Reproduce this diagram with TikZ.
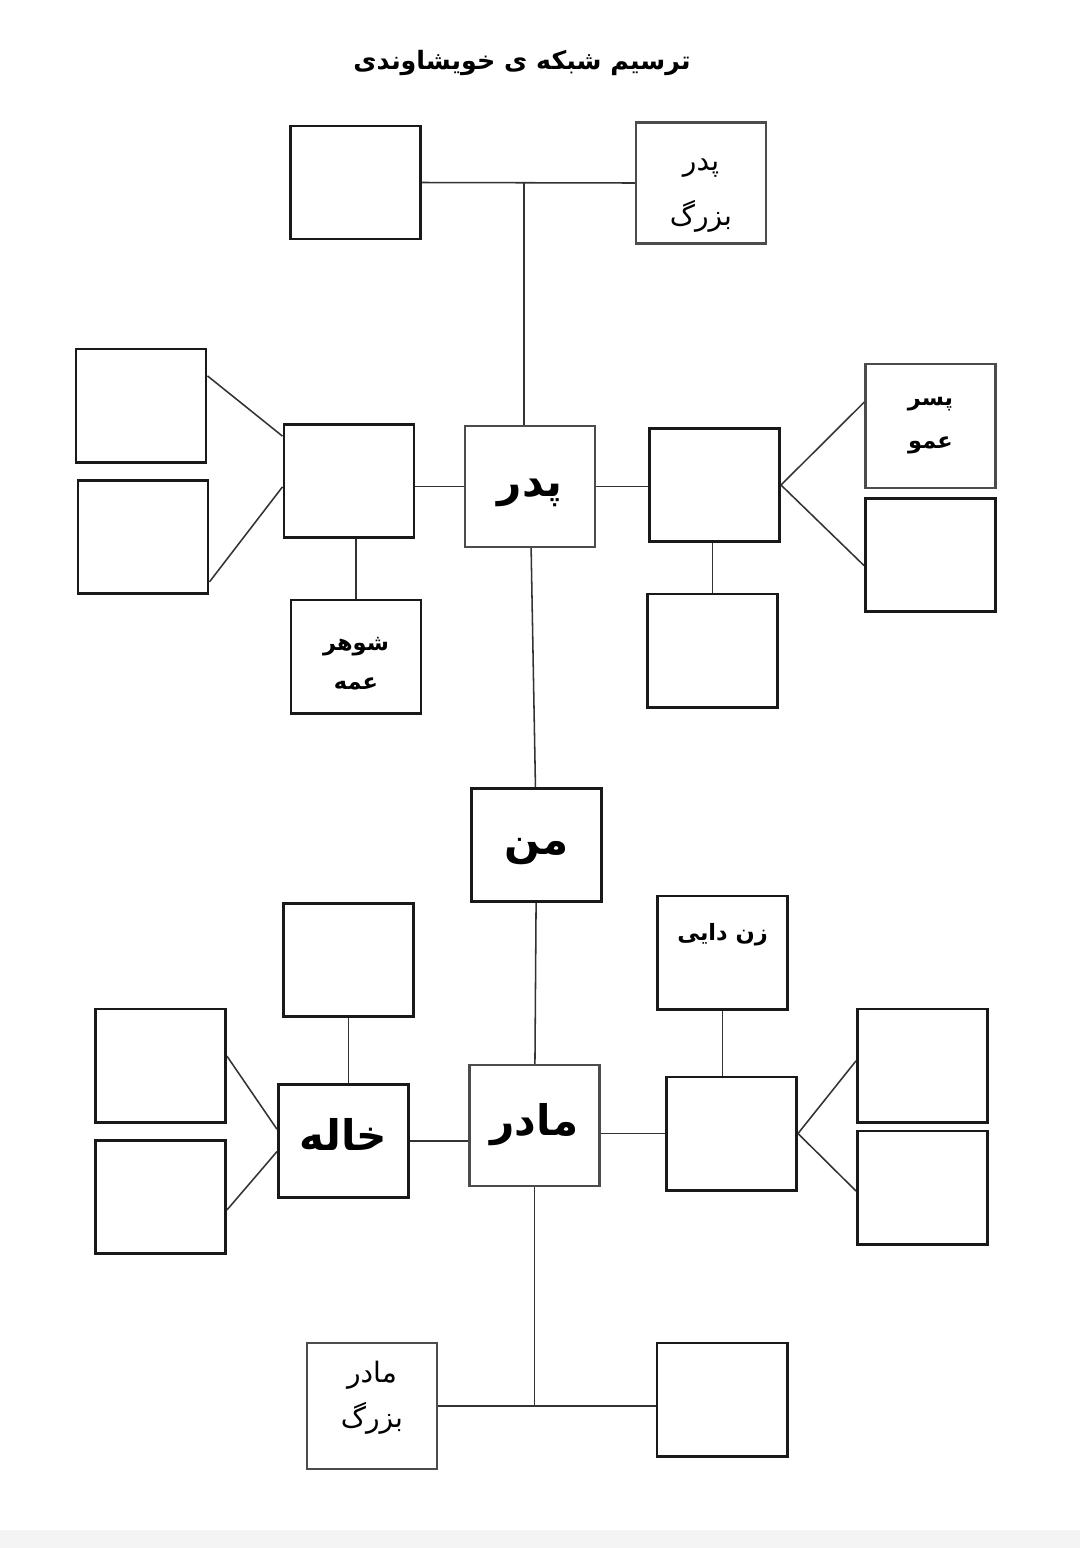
\documentclass[tikz,border=0pt]{standalone}
\usepackage{fontspec}
\usepackage{tikz}
\usetikzlibrary{positioning}
\newfontfamily\fafont[Script=Arabic]{DejaVu Sans}
\TeXXeTstate=1
\definecolor{bandgray}{HTML}{F4F4F4}

\begin{document}
\begin{tikzpicture}[
    x=0.025cm, y=-0.025cm,
    box/.style={rectangle, draw=black!90, line width=2.1pt, minimum width=3.25cm, minimum height=2.825cm, inner sep=0pt, align=center},
    pale/.style={box, draw=black!70, line width=1.5pt, minimum height=3.025cm},
    note/.style={font=\fafont\fontsize{20}{32}\selectfont},
    boldnote/.style={font=\fafont\bfseries\fontsize{16}{28}\selectfont},
    big/.style={font=\fafont\bfseries\fontsize{30}{36}\selectfont, text height=22pt, text depth=8pt},
    link/.style={draw=black!80, line width=1.1pt}
]
\useasboundingbox (0,0) rectangle (1080,1548);
\fill[bandgray] (0,1530) rectangle (1080,1548);

% Title
\node[font=\fafont\bfseries\fontsize{18}{22}\selectfont] (title) at (522,63) {\beginR ترسیم شبکه ی خویشاوندی\endR};

% Father's side
\node[box] (gpL) at (355.5,182.5) {};
\node[pale, note] (gpR) at (701,183) {\rule{0pt}{26pt}\beginR پدر\endR\\[7pt]\beginR بزرگ\endR};
\node[pale, big] (pedar) at (530,486.5) {\beginR پدر\endR};
\node[box] (amme) at (349,481) {};
\node[box] (ak1) at (141,405.5) {};
\node[box] (ak2) at (143,537) {};
\node[box, boldnote] (shamme) at (356,656.5) {\rule{0pt}{20pt}\beginR شوهر\endR\\\beginR عمه\endR};
\node[box] (amu) at (714.5,485) {};
\node[pale, boldnote, minimum height=3.1cm] (pamu) at (930.5,426) {\beginR پسر\endR\\[2.5pt]\beginR عمو\endR};
\node[box] (amk) at (930.5,555) {};
\node[box] (zamu) at (712.5,650.5) {};

% Me
\node[box, big] (man) at (536.5,845) {\beginR من\endR};

% Mother's side
\node[pale, big] (madar) at (534.5,1125.5) {\beginR مادر\endR};
\node[box, big] (khale) at (343.5,1141) {\beginR خاله\endR};
\node[box] (shkhale) at (348.5,960) {};
\node[box] (kk1) at (160.5,1065.5) {};
\node[box] (kk2) at (160.5,1197) {};
\node[box, boldnote, text depth=1.05cm] (zdaei) at (722.5,952.5) {\beginR زن دایی\endR};
\node[box] (daei) at (731.5,1133.5) {};
\node[box] (dk1) at (922.5,1065.5) {};
\node[box] (dk2) at (922.5,1187.5) {};
\node[pale, note, minimum height=3.15cm] (gmL) at (372,1406) {\beginR مادر\endR\\\beginR بزرگ\endR\rule[-16pt]{0pt}{0pt}};
\node[box] (gmR) at (722,1399.5) {};

% Links
\coordinate (gpmid) at (524,182.5);
\draw[link] (gpL.east) -- (gpR.west);
\draw[link] (gpmid) -- (gpmid |- pedar.north);
\draw[link] (ak1.24) -- (amme.146);
\draw[link] (ak2.-34) -- (amme.185);
\draw[link] (pedar.west) -- (pedar.west -| amme.east);
\draw[link] (shamme.north) -- (shamme.north |- amme.south);
\draw[link] (pedar.east) -- (pedar.east -| amu.west);
\draw[link] (amu.east) -- (pamu.160);
\draw[link] (amu.east) -- (amk.189);
\draw[link] (zamu.north) -- (zamu.north |- amu.south);
\draw[link] (pedar) -- (man);
\draw[link] (man) -- (madar);
\draw[link] (khale.east) -- (khale.east -| madar.west);
\draw[link] (shkhale.south) -- (shkhale.south |- khale.north);
\draw[link] (kk1.8) -- (khale.170);
\draw[link] (kk2.-11) -- (khale.189);
\draw[link] (daei.west) -- (daei.west -| madar.east);
\draw[link] (zdaei.south) -- (zdaei.south |- daei.north);
\draw[link] (daei.east) -- (dk1.176);
\draw[link] (daei.east) -- (dk2.183);
\draw[link] (gmL.east) -- (gmL.east -| gmR.west);
\draw[link] (madar.south) -- (madar.south |- gmL.east);
\end{tikzpicture}
\end{document}
